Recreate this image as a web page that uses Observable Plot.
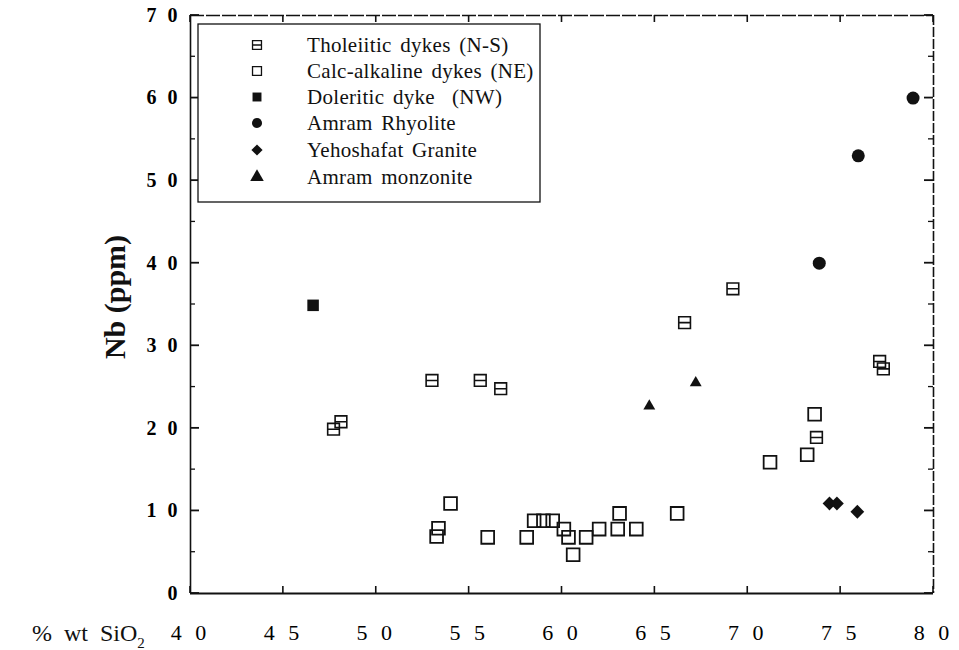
<!DOCTYPE html>
<html>
<head>
<meta charset="utf-8">
<script src="https://cdn.jsdelivr.net/npm/d3@7"></script>
<script src="https://cdn.jsdelivr.net/npm/@observablehq/plot@0.6"></script>
<style>
  html, body { margin: 0; padding: 0; background: #fff; }
  #chart svg { display: block; }
  #chart g[aria-label="x-axis tick label"] text { letter-spacing: 4px; }
  #chart g[aria-label="y-axis tick label"] text { letter-spacing: 3px; }
</style>
</head>
<body>
<div id="chart"></div>
<script>
// ---- data ----
const tholSi = [47.7, 48.1, 53.0, 55.6, 56.7, 66.6, 69.2, 73.7, 77.1, 77.3];
const tholNb = [19.9, 20.8, 25.8, 25.8, 24.8, 32.8, 36.9, 18.9, 28.1, 27.2];

const calcSi = [54.0, 53.35, 53.25, 56.0, 58.1, 58.5, 59.0, 59.5, 60.1, 60.35, 60.6, 61.3, 62.0, 63.1, 63.0, 64.0, 66.2, 71.2, 73.2, 73.6];
const calcNb = [10.9, 7.9, 6.9, 6.8, 6.8, 8.8, 8.8, 8.8, 7.8, 6.8, 4.7, 6.8, 7.8, 9.7, 7.8, 7.8, 9.7, 15.9, 16.8, 21.7];

const dolSi = [46.6];
const dolNb = [34.9];

const rhySi = [73.85, 75.95, 78.9];
const rhyNb = [40.0, 53.0, 60.0];

const graSi = [74.4, 74.8, 75.9];
const graNb = [10.9, 10.9, 9.9];

const monSi = [64.7, 67.2];
const monNb = [22.7, 25.5];

const seriesNames = [
  "Tholeiitic dykes (N-S)",
  "Calc-alkaline dykes (NE)",
  "Doleritic dyke  (NW)",
  "Amram Rhyolite",
  "Yehoshafat Granite",
  "Amram monzonite"
];

const xTicks = [40, 45, 50, 55, 60, 65, 70, 75, 80];
const xTickLabels = ["4 0", "4 5", "5 0", "5 5", "6 0", "6 5", "7 0", "7 5", "8 0"];
const yTicks = [0, 10, 20, 30, 40, 50, 60, 70];
const yTickLabels = ["0", "1 0", "2 0", "3 0", "4 0", "5 0", "6 0", "7 0"];
const yMinorTicks = [5, 15, 25, 35, 45, 55, 65];

const zip = (xs, ys) => xs.map((x, i) => ({si: x, nb: ys[i]}));

// custom symbol: square with a horizontal bar (tholeiitic)
const tholSymbol = {
  draw(ctx, size) {
    const w = Math.sqrt(size) / 2;
    ctx.moveTo(-w, -w); ctx.lineTo(w, -w); ctx.lineTo(w, w); ctx.lineTo(-w, w); ctx.closePath();
    ctx.moveTo(-w, 0); ctx.lineTo(w, 0);
  }
};

const serif = "'Liberation Serif', 'DejaVu Serif', serif";

const chart = Plot.plot({
  width: 959,
  height: 650,
  marginLeft: 190,
  marginRight: 26,
  marginTop: 15,
  marginBottom: 57,
  style: {fontFamily: serif, background: "#fff", color: "#000"},
  x: {domain: [40, 80]},
  y: {domain: [0, 70]},
  marks: [
    // frame
    Plot.ruleY([70], {stroke: "#111", strokeWidth: 1.3, strokeDasharray: "14,2"}),
    Plot.ruleX([80], {stroke: "#111", strokeWidth: 1.6, strokeDasharray: "10,2"}),
    Plot.ruleX([40], {stroke: "#111", strokeWidth: 1.6}),
    Plot.ruleY([0], {stroke: "#111", strokeWidth: 2}),
    // axis labels
    Plot.axisX(xTicks, {anchor: "bottom", tickSize: 0, tickPadding: 31, stroke: "none", tickFormat: d => xTickLabels[xTicks.indexOf(d)], fontSize: 22, label: null}),
    Plot.axisY(yTicks, {anchor: "left", tickSize: 0, tickPadding: 10, stroke: "none", tickFormat: d => yTickLabels[yTicks.indexOf(d)], fontSize: 20, fontWeight: "bold", label: null}),
    // data
    Plot.dot(zip(calcSi, calcNb), {x: "si", y: "nb", symbol: "square", r: 7.2, stroke: "#111", strokeWidth: 1.8, fill: "none"}),
    Plot.dot(zip(tholSi, tholNb), {x: "si", y: "nb", symbol: tholSymbol, r: 6.6, stroke: "#111", strokeWidth: 1.6, fill: "none"}),
    Plot.dot(zip(dolSi, dolNb), {x: "si", y: "nb", symbol: "square", r: 6.5, fill: "#111", stroke: "none"}),
    Plot.dot(zip(rhySi, rhyNb), {x: "si", y: "nb", symbol: "circle", r: 6.5, fill: "#111", stroke: "none"}),
    Plot.dot(zip(graSi, graNb), {x: "si", y: "nb", symbol: "diamond2", r: 6.2, fill: "#111", stroke: "none"}),
    Plot.dot(zip(monSi, monNb), {x: "si", y: "nb", symbol: "triangle", r: 4.4, fill: "#111", stroke: "none"})
  ]
});

document.getElementById("chart").appendChild(chart);

const svg = d3.select(chart);
const sx = chart.scale("x"), sy = chart.scale("y");
const x0 = sx.apply(40), x1 = sx.apply(80), y0 = sy.apply(0), y1 = sy.apply(70);

// ---- inward ticks on all four sides, placed with the plot's own scales ----
const tk = svg.append("g").attr("stroke", "#111");
const tick = (xa, ya, xb, yb, w) =>
  tk.append("line").attr("x1", xa).attr("y1", ya).attr("x2", xb).attr("y2", yb).attr("stroke-width", w);
yTicks.forEach(v => { const y = sy.apply(v); tick(x0, y, x0 + 9, y, 1.8); tick(x1, y, x1 - 9, y, 1.8); });
yMinorTicks.forEach(v => { const y = sy.apply(v); tick(x0, y, x0 + 5, y, 1.3); tick(x1, y, x1 - 5, y, 1.3); });
xTicks.forEach(v => { const x = sx.apply(v); tick(x, y0, x, y0 - 7, 1.6); tick(x, y1, x, y1 + 7, 1.6); });

// ---- legend ----
const lg = svg.append("g").attr("font-family", serif).attr("text-anchor", "start");
lg.append("rect")
  .attr("x", 198).attr("y", 24).attr("width", 342).attr("height", 178)
  .attr("fill", "#fff").attr("stroke", "#111").attr("stroke-width", 1.3);

const legendSymbols = [
  {type: tholSymbol, fill: "none", stroke: "#111"},
  {type: d3.symbolSquare, fill: "none", stroke: "#111"},
  {type: d3.symbolSquare, fill: "#111", stroke: "none"},
  {type: d3.symbolCircle, fill: "#111", stroke: "none"},
  {type: d3.symbolDiamond2, fill: "#111", stroke: "none"},
  {type: d3.symbolTriangle, fill: "#111", stroke: "none"}
];
const rowY = [45, 71, 97, 123, 150, 177];
seriesNames.forEach((name, i) => {
  const s = legendSymbols[i];
  lg.append("path")
    .attr("transform", `translate(257,${rowY[i]})`)
    .attr("d", d3.symbol(s.type, 80)())
    .attr("fill", s.fill).attr("stroke", s.stroke).attr("stroke-width", 1.3);
  lg.append("text")
    .attr("x", 307).attr("y", rowY[i] + 7)
    .attr("text-anchor", "start")
    .attr("font-size", 21).attr("letter-spacing", "0.3px").attr("word-spacing", "3px")
    .attr("fill", "#111")
    .attr("xml:space", "preserve")
    .text(name);
});

// y axis title
svg.append("text")
  .attr("transform", "translate(118,297) rotate(-90)")
  .attr("text-anchor", "middle").attr("dominant-baseline", "middle")
  .attr("font-family", serif).attr("font-size", 30).attr("font-weight", "bold")
  .attr("fill", "#111")
  .text("Nb (ppm)");

// x axis title
const xt = svg.append("text")
  .attr("x", 32).attr("y", 641)
  .attr("text-anchor", "start")
  .attr("font-family", serif).attr("font-size", 24).attr("fill", "#111")
  .attr("word-spacing", "6px");
xt.append("tspan").text("% wt SiO");
xt.append("tspan").attr("dy", 7).attr("font-size", 15).text("2");
</script>
</body>
</html>
